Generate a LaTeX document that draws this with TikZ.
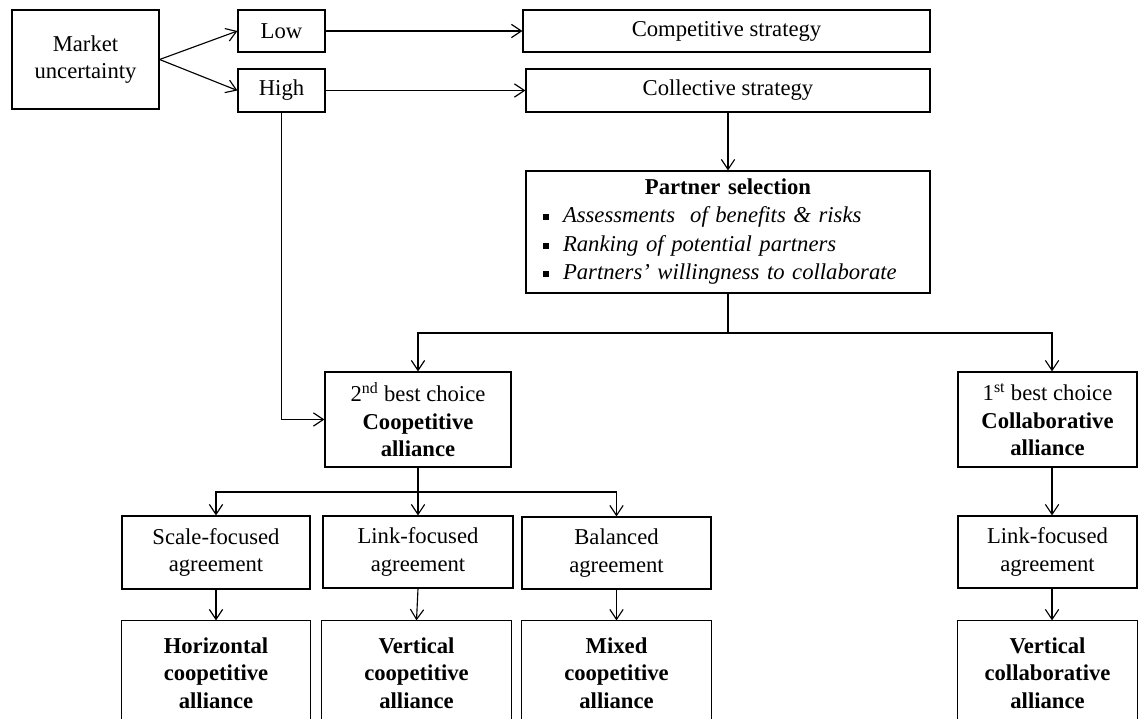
\documentclass[tikz,border=0pt]{standalone}
\usepackage{fontspec}
\setmainfont{Liberation Serif}
\usetikzlibrary{arrows.meta,positioning}

\newcommand{\pbul}{\makebox[15pt][l]{\rule[2pt]{4.5pt}{4.5pt}}}

\begin{document}
\begin{tikzpicture}[x=0.75pt,y=0.75pt,yscale=-1,xscale=1,
	box/.style={draw,line width=0.9pt,align=center,inner sep=2pt,font=\fontsize{17}{20.6}\selectfont},
	openbox/.style={box,draw=none},
	arr/.style={line width=0.85pt,-{Straight Barb[length=7.5pt,width=10pt]}},
	lin/.style={line width=0.85pt}]
		\useasboundingbox (0,0) rectangle (1138,718); %set diagram left start at 0, and has height of 718
		
		% Text Node
		\node[box,minimum width=110.25pt,minimum height=74.25pt] (market) at (85.5,59.5) {Market\\uncertainty};
		% Text Node
		\node[box,minimum width=65.25pt,minimum height=31.5pt] (low) at (281.5,31) {Low};
		% Text Node
		\node[box,minimum width=65.25pt,minimum height=32.25pt] (high) at (281.5,90.5) {High};
		% Text Node
		\node[box,minimum width=305.25pt,minimum height=31.5pt] (comp) at (726.5,31) {Competitive strategy};
		% Text Node
		\node[box,minimum width=303pt,minimum height=32.25pt] (coll) at (728,90.5) {Collective strategy};
		% Text Node
		\node[box,text width=277.5pt,inner xsep=12.75pt,inner ysep=3pt,minimum height=91.5pt,align=left] (partner) at (728,232)
			{{\centering\textbf{Partner selection}\par}
			\pbul\textit{Assessments\ \ of benefits \& risks}\\[1pt]
			\pbul\textit{Ranking of potential partners}\\[1pt]
			\pbul\textit{Partners’ willingness to collaborate}};
		% Text Node
		\node[box,minimum width=139.5pt,minimum height=71.25pt] (coop) at (418,419.5) {2\textsuperscript{nd} best choice\\\textbf{Coopetitive}\\\textbf{alliance}};
		% Text Node
		\node[box,minimum width=134.25pt,minimum height=71.25pt] (collab) at (1047.5,419.5) {1\textsuperscript{st} best choice\\\textbf{Collaborative}\\\textbf{alliance}};
		% Text Node
		\node[box,minimum width=141pt,minimum height=54.75pt] (scale) at (216,552.5) {Scale-focused\\agreement};
		% Text Node
		\node[box,minimum width=142.5pt,minimum height=54pt] (link) at (418,552) {Link-focused\\agreement};
		% Text Node
		\node[box,minimum width=141.75pt,minimum height=54pt] (bal) at (616.5,553) {Balanced\\agreement};
		% Text Node
		\node[box,minimum width=134.25pt,minimum height=54pt] (linktwo) at (1047.5,552) {Link-focused\\agreement};
		% Text Node (open at the bottom edge)
		\node[openbox,minimum width=141pt,minimum height=78pt] (hor) at (216,673) {\textbf{Horizontal}\\\textbf{coopetitive}\\\textbf{alliance}};
		% Text Node
		\node[openbox,minimum width=141.75pt,minimum height=78pt] (vert) at (416.5,673) {\textbf{Vertical}\\\textbf{coopetitive}\\\textbf{alliance}};
		% Text Node
		\node[openbox,minimum width=141.75pt,minimum height=78pt] (mixed) at (616.5,673) {\textbf{Mixed}\\\textbf{coopetitive}\\\textbf{alliance}};
		% Text Node
		\node[openbox,minimum width=134.25pt,minimum height=78pt] (vcollab) at (1047.5,673) {\textbf{Vertical}\\\textbf{collaborative}\\\textbf{alliance}};
		\foreach \n in {hor,vert,mixed,vcollab}
			\draw[line width=0.9pt] (\n.south west) -- (\n.north west) -- (\n.north east) -- (\n.south east);
		
		%Straight Lines
		\draw[arr] (market.east) -- (low.west);
		\draw[arr] (market.east) -- (high.west);
		\draw[arr] (low.east) -- (comp.west);
		\draw[arr] (high.east) -- (coll.west);
		\draw[arr] (coll.south) -- (partner.north);
		\draw[arr] (high.south) |- (coop.west);
		
		%Straight Lines
		\coordinate (split) at (728,333);
		\draw[lin,line width=1.3pt] (partner.south) -- (split);
		\draw[arr] (split) -| (coop.north);
		\draw[arr] (split) -| ([xshift=3.4pt]collab.north);
		
		%Straight Lines
		\coordinate (csplit) at (418,492);
		\draw[lin] (coop.south) -- (csplit);
		\draw[arr] (csplit) -| (scale.north);
		\draw[arr] (csplit) -- (link.north);
		\draw[arr] (csplit) -| (bal.north);
		\draw[arr] (scale.south) -- (hor.north);
		\draw[arr] (link.south) -- (vert.north);
		\draw[arr] (bal.south) -- (mixed.north);
		\draw[arr] ([xshift=3.4pt]collab.south) -- ([xshift=3.4pt]linktwo.north);
		\draw[arr] ([xshift=3.4pt]linktwo.south) -- ([xshift=3.4pt]vcollab.north);
		
\end{tikzpicture}
\end{document}
